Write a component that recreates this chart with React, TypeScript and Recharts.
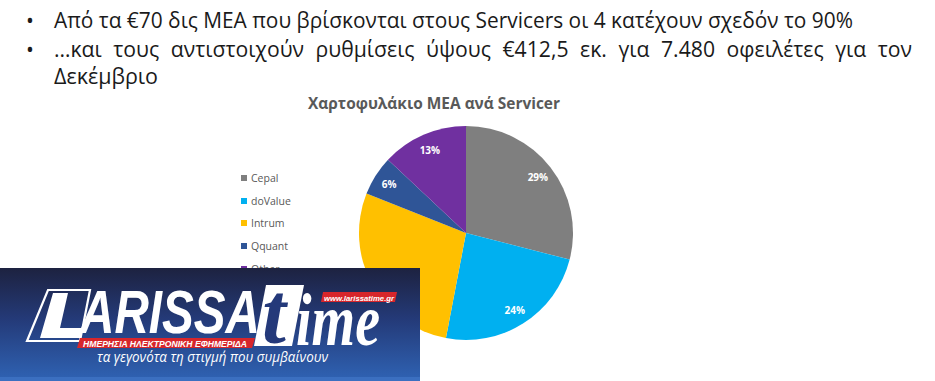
import React from 'react';
import { PieChart, Pie, Cell, Legend } from 'recharts';

const servicers = ['Cepal', 'doValue', 'Intrum', 'Qquant', 'Other'];
const shares = [29, 24, 28, 6, 13];
const sliceColors = ['#7f7f7f', '#00b0f0', '#ffc000', '#2f5597', '#7030a0'];
const chartTitle = 'Χαρτοφυλάκιο ΜΕΑ ανά Servicer';
const bulletLines = [
  'Από τα €70 δις ΜΕΑ που βρίσκονται στους Servicers οι 4 κατέχουν σχεδόν το 90%',
  '…και τους αντιστοιχούν ρυθμίσεις ύψους €412,5 εκ. για 7.480 οφειλέτες για τον',
  'Δεκέμβριο',
];
const logoWord = 'ARISSA';
const logoBanner = 'ΗΜΕΡΗΣΙΑ ΗΛΕΚΤΡΟΝΙΚΗ ΕΦΗΜΕΡΙΔΑ';
const logoUrl = 'www.larissatime.gr';
const logoTagline = 'τα γεγονότα τη στιγμή που συμβαίνουν';

const data = servicers.map((name, i) => ({ name, value: shares[i] }));

const RADIAN = Math.PI / 180;

const renderLabel = (props: any) => {
  const { cx, cy, midAngle, outerRadius, value } = props;
  const r = outerRadius * 0.85;
  const x = cx + r * Math.cos(-midAngle * RADIAN);
  const y = cy + r * Math.sin(-midAngle * RADIAN);
  return (
    <text
      x={x}
      y={y}
      fill="#ffffff"
      textAnchor="middle"
      dominantBaseline="central"
      fontFamily="'Open Sans', sans-serif"
      fontWeight={700}
      fontSize={10}
    >
      {`${value}%`}
    </text>
  );
};

const renderLegend = (props: any) => {
  const payload = [...(props.payload || [])].sort(
    (a: any, b: any) => servicers.indexOf(a.value) - servicers.indexOf(b.value)
  );
  return (
    <div>
      {payload.map((entry: any, i: number) => {
        const idx = servicers.indexOf(entry.value);
        return (
          <div
            key={i}
            style={{
              display: 'flex',
              alignItems: 'center',
              height: 22.6,
              fontFamily: "'Open Sans', sans-serif",
              fontSize: 10.5,
              color: '#595959',
              whiteSpace: 'nowrap',
            }}
          >
            <span
              style={{
                display: 'inline-block',
                width: 6,
                height: 6,
                background: idx >= 0 ? sliceColors[idx] : entry.color,
                marginRight: 4,
              }}
            />
            {entry.value}
          </div>
        );
      })}
    </div>
  );
};

const textFont = "'Open Sans', 'Noto Sans', sans-serif";

export default function App() {
  return (
    <div
      style={{
        position: 'absolute',
        left: 0,
        top: 0,
        width: 935,
        height: 381,
        background: '#ffffff',
        overflow: 'hidden',
      }}
    >
      <svg
        width={935}
        height={381}
        style={{ position: 'absolute', left: 0, top: 0 }}
      >
        <text x={26} y={28} fontFamily={textFont} fontSize={21} fill="#1a1a1a">•</text>
        <text x={26} y={57} fontFamily={textFont} fontSize={21} fill="#1a1a1a">•</text>
        <text
          x={54}
          y={28}
          fontFamily={textFont}
          fontSize={21}
          fill="#1a1a1a"
          textLength={799}
          lengthAdjust="spacingAndGlyphs"
        >
          {bulletLines[0]}
        </text>
        <text
          x={54}
          y={57}
          fontFamily={textFont}
          fontSize={21}
          fill="#1a1a1a"
          wordSpacing={6}
          textLength={858}
          lengthAdjust="spacingAndGlyphs"
        >
          {bulletLines[1]}
        </text>
        <text
          x={54}
          y={84}
          fontFamily={textFont}
          fontSize={21}
          fill="#1a1a1a"
          textLength={104}
          lengthAdjust="spacingAndGlyphs"
        >
          {bulletLines[2]}
        </text>
        <text
          x={308}
          y={109}
          fontFamily={textFont}
          fontSize={16.5}
          fontWeight={700}
          fill="#595959"
          textLength={252}
          lengthAdjust="spacingAndGlyphs"
        >
          {chartTitle}
        </text>
      </svg>

      <div style={{ position: 'absolute', left: 0, top: 0 }}>
        <PieChart width={935} height={381} margin={{ top: 0, right: 0, bottom: 0, left: 0 }}>
          <Pie
            data={data}
            dataKey="value"
            nameKey="name"
            cx={466}
            cy={233}
            outerRadius={107}
            startAngle={90}
            endAngle={-270}
            stroke="none"
            labelLine={false}
            label={renderLabel}
            isAnimationActive={false}
          >
            {data.map((d, i) => (
              <Cell key={d.name} fill={sliceColors[i]} />
            ))}
          </Pie>
          <Legend
            content={renderLegend}
            layout="horizontal"
            verticalAlign="middle"
            align="center"
            wrapperStyle={{ left: 241, top: 167, width: 90, height: 115 }}
          />
        </PieChart>
      </div>

      <svg
        width={935}
        height={381}
        style={{ position: 'absolute', left: 0, top: 0, pointerEvents: 'none' }}
      >
        <defs>
          <linearGradient id="logoBg" x1="0" y1="0" x2="0" y2="1">
            <stop offset="0%" stopColor="#1d2240" />
            <stop offset="45%" stopColor="#243a78" />
            <stop offset="100%" stopColor="#2f63b4" />
          </linearGradient>
        </defs>
        <rect x={0} y={268} width={420} height={113} fill="url(#logoBg)" />
        <rect x={0} y={377} width={420} height={4} fill="#3b6fc0" />
        {/* L emblem */}
        <polygon
          points="48,290 90,290 80,341 27,341"
          fill="none"
          stroke="#ffffff"
          strokeWidth={2.2}
        />
        <polygon
          points="53,293 68,293 60,328 83,328 80,338 40,338"
          fill="#ffffff"
        />
        <text
          x={80}
          y={333}
          fontFamily="'Liberation Sans', Arial, sans-serif"
          fontSize={62}
          fontWeight={700}
          fontStyle="italic"
          fill="#ffffff"
          textLength={180}
          lengthAdjust="spacingAndGlyphs"
        >
          {logoWord}
        </text>
        <polygon points="80,338 255,338 252,348 77,348" fill="#d7262b" />
        <text
          x={83}
          y={346.5}
          fontFamily="'Liberation Sans', Arial, sans-serif"
          fontSize={9.5}
          fontWeight={700}
          fontStyle="italic"
          fill="#ffffff"
          textLength={164}
          lengthAdjust="spacingAndGlyphs"
        >
          {logoBanner}
        </text>
        {/* t block */}
        <polygon points="266,285 304,285 292,346 254,346" fill="#ffffff" />
        <text
          x={262}
          y={343}
          fontFamily="'Liberation Serif', 'Times New Roman', serif"
          fontSize={86}
          fontWeight={700}
          fontStyle="italic"
          fill="#24397a"
        >
          t
        </text>
        <text
          x={296}
          y={345}
          fontFamily="'Liberation Serif', 'Times New Roman', serif"
          fontSize={74}
          fontWeight={700}
          fontStyle="italic"
          fill="#ffffff"
          textLength={84}
          lengthAdjust="spacingAndGlyphs"
        >
          ime
        </text>
        <polygon points="323,292 397,292 395,302 321,302" fill="#d7262b" />
        <text
          x={324}
          y={300.5}
          fontFamily="'Liberation Sans', Arial, sans-serif"
          fontSize={8}
          fontWeight={700}
          fontStyle="italic"
          fill="#ffffff"
          textLength={70}
          lengthAdjust="spacingAndGlyphs"
        >
          {logoUrl}
        </text>
        <text
          x={97}
          y={362}
          fontFamily={textFont}
          fontSize={15}
          fontStyle="italic"
          fill="#ffffff"
          textLength={231}
          lengthAdjust="spacingAndGlyphs"
        >
          {logoTagline}
        </text>
      </svg>
    </div>
  );
}
